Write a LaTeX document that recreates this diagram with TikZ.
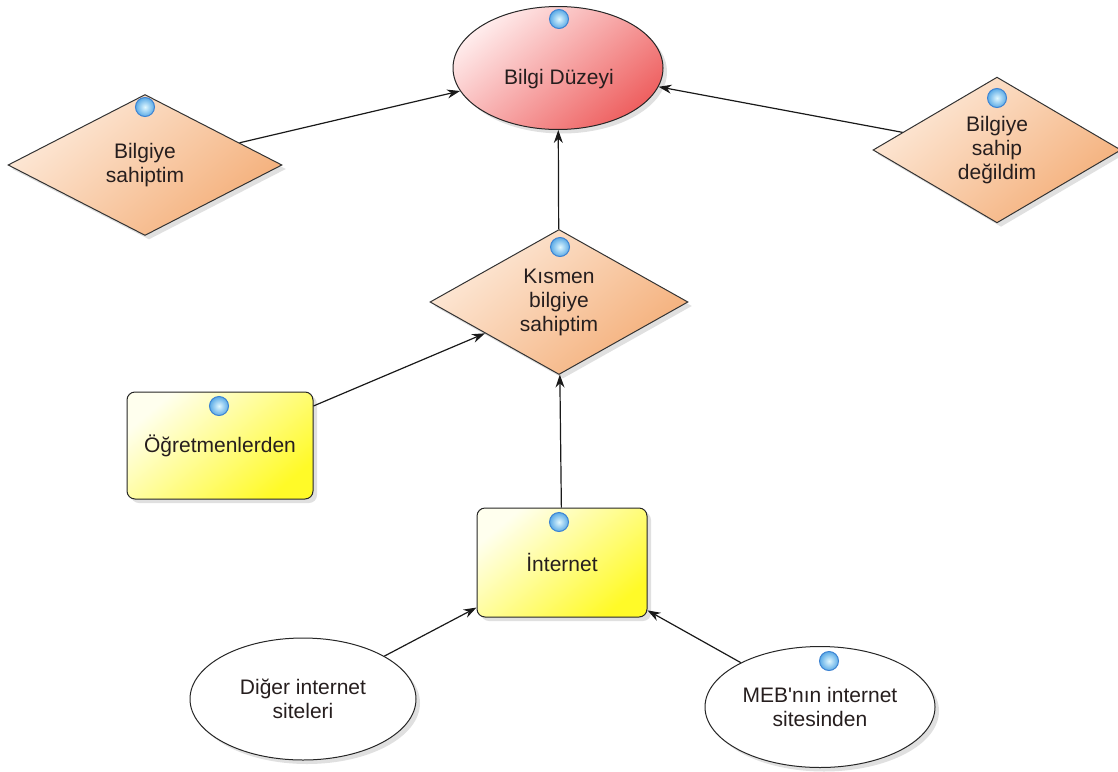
\documentclass[tikz,border=0pt]{standalone}
\usepackage{fontspec}
\setmainfont{Liberation Sans}
\usetikzlibrary{shapes.geometric,shadows,arrows.meta}

\definecolor{redA}{RGB}{255,236,236}
\definecolor{redB}{RGB}{250,204,204}
\definecolor{redC}{RGB}{238,96,96}
\definecolor{orA}{RGB}{253,234,218}
\definecolor{orB}{RGB}{250,212,180}
\definecolor{orC}{RGB}{244,174,120}
\definecolor{yeA}{RGB}{255,255,238}
\definecolor{yeB}{RGB}{255,255,212}
\definecolor{yeC}{RGB}{255,250,40}
\definecolor{txt}{RGB}{38,30,30}
\definecolor{dotrim}{RGB}{60,130,210}
\definecolor{dotin}{RGB}{225,248,255}
\definecolor{dotout}{RGB}{90,170,230}

\begin{document}
\begin{tikzpicture}[x=1pt,y=-1pt,
  every node/.style={font=\fontsize{21}{24}\selectfont, text=txt, align=center},
  shadowed/.style={drop shadow={shadow xshift=4pt,shadow yshift=-4pt,opacity=.2,fill=black!60}},
  goal/.style={ellipse, draw=black!85, line width=1pt, shadowed, inner sep=0pt,
    top color=redA, middle color=redB, bottom color=redC, shading angle=40},
  choice/.style={diamond, draw=black!80, line width=1pt, shadowed, inner sep=0pt,
    top color=orA, middle color=orB, bottom color=orC, shading angle=40},
  source/.style={rectangle, rounded corners=8pt, draw=black!85, line width=1pt, shadowed,
    top color=yeA, middle color=yeB, bottom color=yeC, shading angle=40},
  site/.style={ellipse, draw=black!85, line width=1pt, fill=white, shadowed, inner sep=0pt},
  marker/.style={circle, inner sep=0pt, minimum size=19pt, draw=dotrim, line width=1pt,
    inner color=dotin, outer color=dotout},
  arr/.style={-{Stealth[length=13pt,width=9pt]}, draw=black!90, line width=1.2pt}]

\useasboundingbox (0,0) rectangle (1118,771);

% goal
\node[goal, minimum width=210pt, minimum height=123pt] (bd) at (558,68) {};
\node (bdt) at (559,79) {Bilgi Düzeyi};

% knowledge levels
\node[choice, minimum width=274pt, minimum height=141pt] (bs) at (145,165) {Bilgiye\\sahiptim};
\node[choice, minimum width=248pt, minimum height=135pt] (bn) at (997,150) {Bilgiye\\sahip\\değildim};
\node[choice, minimum width=258pt, minimum height=143pt] (ks) at (559,302) {Kısmen\\bilgiye\\sahiptim};

% sources
\node[source, minimum width=186pt, minimum height=107pt] (og) at (220,445.5) {Öğretmenlerden};
\node[source, minimum width=170pt, minimum height=109pt] (in) at (562,562.5) {İnternet};

% web sites
\node[site, minimum width=226pt, minimum height=122pt] (dg) at (303,699) {Diğer internet\\siteleri};
\node[site, minimum width=230pt, minimum height=121pt] (mb) at (820,707) {MEB\textquotesingle nın internet\\sitesinden};

% markers
\node[marker] (m1) at (559,19) {};
\node[marker] (m2) at (145,107) {};
\node[marker] (m3) at (997,98) {};
\node[marker] (m4) at (560,247) {};
\node[marker] (m5) at (219,406) {};
\node[marker] (m6) at (559,522) {};
\node[marker] (m7) at (829,661) {};

% connectors
\draw[arr] (bs) -- (bd);
\draw[arr] (bn) -- (bd);
\draw[arr] (ks) -- (bd);
\draw[arr] (og) -- (ks);
\draw[arr] (in) -- (ks);
\draw[arr] (dg) -- (in);
\draw[arr] (mb) -- (in);
\end{tikzpicture}
\end{document}
